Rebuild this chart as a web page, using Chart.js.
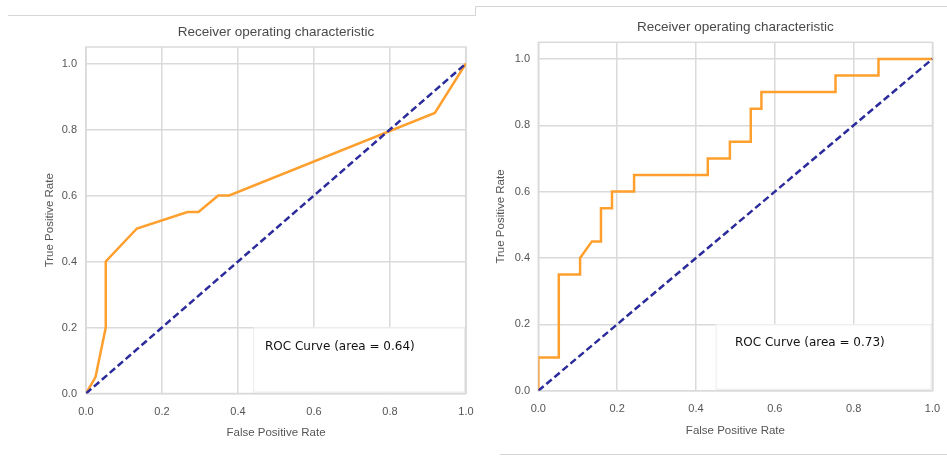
<!DOCTYPE html>
<html>
<head>
<meta charset="utf-8">
<script src="https://cdn.jsdelivr.net/npm/chart.js@4/dist/chart.umd.min.js"></script>
<style>
  body { margin: 0; background: #ffffff; }
  #wrap { position: relative; width: 947px; height: 456px; overflow: hidden; }
  .panel { position: absolute; top: 0; }
  .rule { position: absolute; background: #d6d6d6; }
</style>
</head>
<body>
<div id="wrap">
  <div class="rule" style="left:8px; top:15px; width:467px; height:1px;"></div>
  <div class="rule" style="left:475px; top:6px; width:1px; height:10px;"></div>
  <div class="rule" style="left:475px; top:6px; width:472px; height:1px;"></div>
  <div class="rule" style="left:500px; top:454px; width:447px; height:1px;"></div>
  <div class="panel" style="left:0px;"><canvas id="rocLeft" width="480" height="456"></canvas></div>
  <div class="panel" style="left:480px;"><canvas id="rocRight" width="467" height="456"></canvas></div>
</div>
<script>
// 左のROC曲線（読み取り値）
const fprLeft = [0, 0.025, 0.052, 0.052, 0.134, 0.267, 0.296, 0.348, 0.377, 0.918, 1.0];
const tprLeft = [0, 0.05, 0.2, 0.4, 0.5, 0.55, 0.55, 0.6, 0.6, 0.85, 1.0];

// 右のROC曲線（階段状）
const fprRight = [0, 0, 0.052, 0.052, 0.106, 0.106, 0.136, 0.159, 0.159, 0.187, 0.187, 0.243, 0.243,
  0.43, 0.43, 0.486, 0.486, 0.539, 0.539, 0.566, 0.566, 0.754, 0.754, 0.863, 0.863, 1.0];
const tprRight = [0, 0.1, 0.1, 0.35, 0.35, 0.4, 0.45, 0.45, 0.55, 0.55, 0.6, 0.6, 0.65,
  0.65, 0.7, 0.7, 0.75, 0.75, 0.85, 0.85, 0.9, 0.9, 0.95, 0.95, 1.0, 1.0];

// 対角線（ランダム分類器）
const chanceX = [0, 1];
const chanceY = [0, 1];

// 目盛り
const tickValues = [0, 0.2, 0.4, 0.6, 0.8, 1.0];

const chartTitle = "Receiver operating characteristic";
const xLabel = "False Positive Rate";
const yLabel = "True Positive Rate";
const areaLeft = "ROC Curve (area = 0.64)";
const areaRight = "ROC Curve (area = 0.73)";

const gridColor = "#dadada";
const textColor = "#555555";

function toPoints(xs, ys) {
  return xs.map((x, i) => ({ x: x, y: ys[i] }));
}

// 凡例の白い箱と文字、枠線を描くプラグイン
const boxPlugin = {
  id: "rocBox",
  beforeDatasetsDraw(chart, args, opts) {
    const { ctx, chartArea, scales } = chart;
    const x0 = scales.x.getPixelForValue(opts.boxX);
    const y0 = scales.y.getPixelForValue(opts.boxY);
    ctx.save();
    ctx.fillStyle = "#ffffff";
    ctx.fillRect(x0, y0, chartArea.right - x0 - 1, chartArea.bottom - y0 - 1);
    ctx.strokeStyle = "#ececec";
    ctx.lineWidth = 1;
    ctx.strokeRect(x0 + 0.5, y0 + 0.5, chartArea.right - x0 - 2, chartArea.bottom - y0 - 2);
    ctx.fillStyle = "#111111";
    ctx.font = "12px 'DejaVu Sans'";
    ctx.textBaseline = "middle";
    ctx.fillText(opts.text, scales.x.getPixelForValue(opts.textX), scales.y.getPixelForValue(opts.textY));
    // 外枠
    ctx.strokeStyle = gridColor;
    ctx.lineWidth = 1.5;
    ctx.strokeRect(chartArea.left, chartArea.top, chartArea.right - chartArea.left, chartArea.bottom - chartArea.top);
    ctx.restore();
  },
};

function makeRoc(canvasId, fpr, tpr, cfg) {
  const canvas = document.getElementById(canvasId);
  return new Chart(canvas, {
    type: "scatter",
    data: {
      datasets: [
        {
          data: toPoints(chanceX, chanceY),
          showLine: true,
          borderColor: "#2b2b9c",
          borderWidth: 2.5,
          borderDash: [7, 3.5],
          pointRadius: 0,
          order: 0,
        },
        {
          data: toPoints(fpr, tpr),
          showLine: true,
          borderColor: "#ff9f2e",
          borderWidth: 2.5,
          pointRadius: 0,
          order: 1,
        },
      ],
    },
    options: {
      responsive: false,
      animation: false,
      layout: { padding: { left: 0, top: 0, bottom: 0, right: cfg.padRight } },
      plugins: {
        legend: { display: false },
        tooltip: { enabled: false },
        title: {
          display: true,
          text: chartTitle,
          fullSize: false,
          color: "#4a4a4a",
          font: { family: "'Liberation Sans', Arial", size: 13.5, weight: "normal" },
          padding: { top: cfg.titleTop, bottom: cfg.titleBottom },
        },
        rocBox: cfg.box,
      },
      scales: {
        x: {
          type: "linear",
          min: 0,
          max: 1,
          afterBuildTicks: (s) => { s.ticks = tickValues.map((v) => ({ value: v })); },
          afterFit: (s) => {
            s.height = cfg.xHeight;
            s.paddingLeft = 0;
            s.paddingRight = 0;
          },
          grid: { color: gridColor, lineWidth: 1.5, drawTicks: false },
          border: { display: false },
          ticks: {
            color: textColor,
            padding: 12,
            font: { family: "'Liberation Sans', Arial", size: 11 },
            callback: (v) => Number(v).toFixed(1),
          },
          title: {
            display: true,
            text: xLabel,
            color: textColor,
            font: { family: "'Liberation Sans', Arial", size: 11.5 },
            padding: { top: 0, bottom: cfg.xTitleBottom },
          },
        },
        y: {
          type: "linear",
          min: 0,
          max: 1.05,
          afterBuildTicks: (s) => { s.ticks = tickValues.map((v) => ({ value: v })); },
          afterFit: (s) => {
            s.width = cfg.yWidth;
            s.paddingTop = 0;
            s.paddingBottom = 0;
          },
          grid: { color: gridColor, lineWidth: 1.5, drawTicks: false },
          border: { display: false },
          ticks: {
            color: textColor,
            padding: cfg.yTickPad,
            font: { family: "'Liberation Sans', Arial", size: 11 },
            callback: (v) => Number(v).toFixed(1),
          },
          title: {
            display: true,
            text: yLabel,
            color: textColor,
            font: { family: "'Liberation Sans', Arial", size: 11.5 },
            padding: { top: cfg.yTitleTop, bottom: 0 },
          },
        },
      },
    },
    plugins: [boxPlugin],
  });
}

makeRoc("rocLeft", fprLeft, tprLeft, {
  padRight: 14,
  titleTop: 23.9,
  titleBottom: 6.9,
  xHeight: 62.5,
  xTitleBottom: 16.1,
  yWidth: 86,
  yTickPad: 9,
  yTitleTop: 43.1,
  box: { text: areaLeft, boxX: 0.44, boxY: 0.2, textX: 0.471, textY: 0.14 },
});

makeRoc("rocRight", fprRight, tprRight, {
  padRight: 14.5,
  titleTop: 19.6,
  titleBottom: 6.5,
  xHeight: 65.3,
  xTitleBottom: 18.4,
  yWidth: 58.3,
  yTickPad: 8.3,
  yTitleTop: 13.8,
  box: { text: areaRight, boxX: 0.45, boxY: 0.2, textX: 0.499, textY: 0.144 },
});
</script>
</body>
</html>
